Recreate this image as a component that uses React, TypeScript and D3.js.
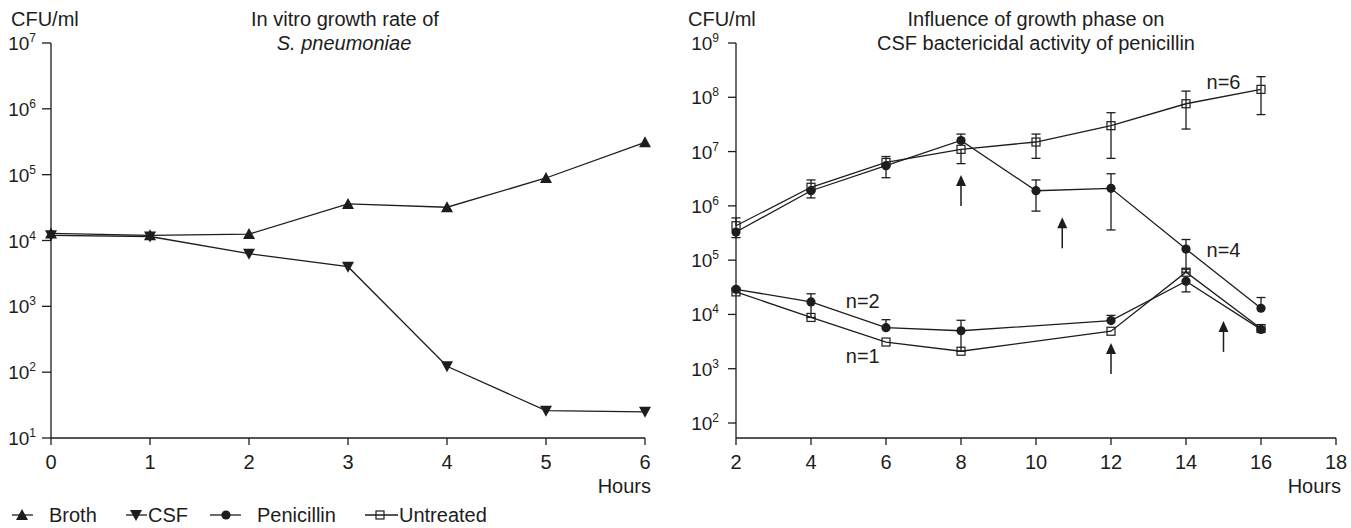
import * as d3 from 'd3'

const W = 1351
const H = 528
const FONT = "'Liberation Sans', Arial, sans-serif"
const INK = '#1d1d1b'

// ---- left panel: in vitro growth ----
const GROWTH_HOURS = [0, 1, 2, 3, 4, 5, 6]
const BROTH = [1.28e4, 1.2e4, 1.25e4, 3.6e4, 3.2e4, 8.9e4, 3.1e5]
const CSF = [1.2e4, 1.15e4, 6.3e3, 4.0e3, 123, 26, 25]
const LEFT_DECADES = [1, 2, 3, 4, 5, 6, 7]

// ---- right panel: growth phase vs penicillin ----
const PHASE_HOURS = [2, 4, 6, 8, 10, 12, 14, 16]
const RIGHT_X_TICKS = [2, 4, 6, 8, 10, 12, 14, 16, 18]
const RIGHT_DECADES = [2, 3, 4, 5, 6, 7, 8, 9]

const UNTREATED_HI = [4.3e5, 2.2e6, 6.3e6, 1.1e7, 1.5e7, 3.0e7, 7.6e7, 1.4e8]
const UNTREATED_HI_LO = [null, null, null, 6.0e6, 7.5e6, 7.5e6, 2.6e7, 4.8e7]
const UNTREATED_HI_HI = [6.0e5, 3.0e6, 8.1e6, null, 2.1e7, 5.2e7, 1.3e8, 2.4e8]

const PENICILLIN_HI = [3.3e5, 1.9e6, 5.5e6, 1.6e7, 1.9e6, 2.1e6, 1.6e5, 1.3e4]
const PENICILLIN_HI_LO = [2.6e5, 1.4e6, 3.3e6, null, 8.0e5, 3.6e5, 6.0e4, null]
const PENICILLIN_HI_HI = [null, null, null, 2.1e7, 3.0e6, 3.9e6, 2.4e5, 2.05e4]

const PENICILLIN_LO = [2.9e4, 1.7e4, 5.7e3, 5.0e3, null, 7.7e3, 4.1e4, 5.3e3]
const PENICILLIN_LO_LO = [null, 8.8e3, null, 2.1e3, null, null, 2.6e4, null]
const PENICILLIN_LO_HI = [null, 2.4e4, 8.0e3, 7.8e3, null, 9.6e3, null, null]

const UNTREATED_LO = [2.6e4, 8.8e3, 3.1e3, 2.1e3, null, 4.9e3, 6.0e4, 5.5e3]
const UNTREATED_LO_HI = [null, null, null, null, null, null, 6.8e4, null]

const ARROW_HOURS = [8, 10.7, 12, 15]
const ARROW_TIPS = [3.7e6, 6.2e5, 2.98e3, 7.6e3]

const N_LABELS = ['n=6', 'n=4', 'n=2', 'n=1']
const N_LABEL_HOURS = [15, 15, 5.38, 5.38]
const N_LABEL_CFU = [1.9e8, 1.54e5, 1.77e4, 1.72e3]

const LEGEND_NAMES = ['Broth', 'CSF', 'Penicillin', 'Untreated']
const LEGEND_KINDS = ['up', 'down', 'circle', 'square']

// legend layout (px)
const LEGEND_LINE = [[12, 33], [126, 147], [210, 241], [365, 398]]
const LEGEND_MARK = [22, 136, 226, 380]
const LEGEND_TEXT = [49, 148, 257, 399]

type Kind = 'up' | 'down' | 'circle' | 'square'

function Marker({ kind, x, y }: { kind: Kind; x: number; y: number }) {
  if (kind === 'up') return <path d={`M${x},${y - 6}L${x + 6},${y + 5}L${x - 6},${y + 5}Z`} fill={INK} />
  if (kind === 'down') return <path d={`M${x},${y + 6}L${x + 6},${y - 5}L${x - 6},${y - 5}Z`} fill={INK} />
  if (kind === 'circle') return <circle cx={x} cy={y} r={4.6} fill={INK} />
  return <rect x={x - 4} y={y - 4} width={8} height={8} fill="none" stroke={INK} strokeWidth={1.2} />
}

function YTickLabel({ x, y, exp }: { x: number; y: number; exp: number }) {
  return (
    <text x={x} y={y + 7} textAnchor="end" fontSize={19} fill={INK}>
      <tspan>10</tspan>
      <tspan dy={-8} fontSize={12}>{exp}</tspan>
    </text>
  )
}

export default function App() {
  // left scales
  const xL = d3.scaleLinear().domain([0, 6]).range([51, 645])
  const yL = d3.scaleLog().domain([10, 1e7]).range([438, 43])

  // right scales
  const xR = d3.scaleLinear().domain([2, 18]).range([736, 1336])
  const yR = d3.scaleLog().domain([1e2, 1e9]).range([423, 43])
  const axisYR = 438

  const lineL = d3.line<[number, number]>().x(d => xL(d[0])).y(d => yL(d[1]))
  const lineR = d3.line<[number, number]>().x(d => xR(d[0])).y(d => yR(d[1]))

  const pairs = (hours: number[], vals: (number | null)[]) =>
    hours.map((h, i) => [h, vals[i]] as [number, number | null]).filter(d => d[1] != null) as [number, number][]

  const rightSeries = [
    { vals: UNTREATED_HI, lo: UNTREATED_HI_LO, hi: UNTREATED_HI_HI, kind: 'square' as Kind },
    { vals: PENICILLIN_HI, lo: PENICILLIN_HI_LO, hi: PENICILLIN_HI_HI, kind: 'circle' as Kind },
    { vals: UNTREATED_LO, lo: [] as (number | null)[], hi: UNTREATED_LO_HI, kind: 'square' as Kind },
    { vals: PENICILLIN_LO, lo: PENICILLIN_LO_LO, hi: PENICILLIN_LO_HI, kind: 'circle' as Kind },
  ]

  const cap = 4.5

  return (
    <svg width={W} height={H} style={{ position: 'absolute', left: 0, top: 0 }} fontFamily={FONT}>
      <rect width={W} height={H} fill="#fff" />

      {/* ---------- left panel ---------- */}
      <text x={11} y={26} fontSize={20} fill={INK}>CFU/ml</text>
      <text x={345} y={26} fontSize={20} fill={INK} textAnchor="middle">In vitro growth rate of</text>
      <text x={344} y={50} fontSize={20} fill={INK} textAnchor="middle" fontStyle="italic">S. pneumoniae</text>

      <line x1={xL(0)} x2={xL(0)} y1={yL(1e7)} y2={yL(10)} stroke={INK} strokeWidth={1.3} />
      <line x1={xL(0)} x2={xL(6)} y1={yL(10)} y2={yL(10)} stroke={INK} strokeWidth={1.3} />
      {LEFT_DECADES.map(e => (
        <g key={e}>
          <line x1={xL(0) - 9} x2={xL(0)} y1={yL(10 ** e)} y2={yL(10 ** e)} stroke={INK} strokeWidth={1.3} />
          <YTickLabel x={xL(0) - 15} y={yL(10 ** e)} exp={e} />
        </g>
      ))}
      {GROWTH_HOURS.map(h => (
        <g key={h}>
          <line x1={xL(h)} x2={xL(h)} y1={yL(10)} y2={yL(10) + 7} stroke={INK} strokeWidth={1.3} />
          <text x={xL(h)} y={469} fontSize={20} textAnchor="middle" fill={INK}>{h}</text>
        </g>
      ))}
      <text x={651} y={493} fontSize={20} textAnchor="end" fill={INK}>Hours</text>

      <path d={lineL(pairs(GROWTH_HOURS, BROTH)) ?? ''} fill="none" stroke={INK} strokeWidth={1.3} />
      <path d={lineL(pairs(GROWTH_HOURS, CSF)) ?? ''} fill="none" stroke={INK} strokeWidth={1.3} />
      {GROWTH_HOURS.map((h, i) => (
        <g key={h}>
          <Marker kind="up" x={xL(h)} y={yL(BROTH[i])} />
          <Marker kind="down" x={xL(h)} y={yL(CSF[i])} />
        </g>
      ))}

      {/* ---------- right panel ---------- */}
      <text x={688} y={26} fontSize={20} fill={INK}>CFU/ml</text>
      <text x={1036} y={26} fontSize={20} fill={INK} textAnchor="middle">Influence of growth phase on</text>
      <text x={1036} y={50} fontSize={20} fill={INK} textAnchor="middle">CSF bactericidal activity of penicillin</text>

      <line x1={xR(2)} x2={xR(2)} y1={yR(1e9)} y2={axisYR} stroke={INK} strokeWidth={1.3} />
      <line x1={xR(2)} x2={xR(18)} y1={axisYR} y2={axisYR} stroke={INK} strokeWidth={1.3} />
      {RIGHT_DECADES.map(e => (
        <g key={e}>
          <line x1={xR(2) - 8} x2={xR(2)} y1={yR(10 ** e)} y2={yR(10 ** e)} stroke={INK} strokeWidth={1.3} />
          <YTickLabel x={xR(2) - 17} y={yR(10 ** e)} exp={e} />
        </g>
      ))}
      {RIGHT_X_TICKS.map(h => (
        <g key={h}>
          <line x1={xR(h)} x2={xR(h)} y1={axisYR} y2={axisYR + 7} stroke={INK} strokeWidth={1.3} />
          <text x={xR(h)} y={469} fontSize={20} textAnchor="middle" fill={INK}>{h}</text>
        </g>
      ))}
      <text x={1341} y={493} fontSize={20} textAnchor="end" fill={INK}>Hours</text>

      {/* error bars */}
      {rightSeries.map((s, si) =>
        PHASE_HOURS.map((h, i) => {
          if (s.vals[i] == null) return null
          const x = xR(h)
          const lo = s.lo[i]
          const hi = s.hi[i]
          return (
            <g key={`${si}-${h}`} stroke={INK} strokeWidth={1.3}>
              {hi != null && (
                <>
                  <line x1={x} x2={x} y1={yR(s.vals[i] as number)} y2={yR(hi)} />
                  <line x1={x - cap} x2={x + cap} y1={yR(hi)} y2={yR(hi)} />
                </>
              )}
              {lo != null && (
                <>
                  <line x1={x} x2={x} y1={yR(s.vals[i] as number)} y2={yR(lo)} />
                  <line x1={x - cap} x2={x + cap} y1={yR(lo)} y2={yR(lo)} />
                </>
              )}
            </g>
          )
        })
      )}

      {rightSeries.map((s, si) => (
        <path key={si} d={lineR(pairs(PHASE_HOURS, s.vals)) ?? ''} fill="none" stroke={INK} strokeWidth={1.3} />
      ))}
      {rightSeries.map((s, si) =>
        pairs(PHASE_HOURS, s.vals).map(([h, v]) => (
          <Marker key={`${si}-${h}`} kind={s.kind} x={xR(h)} y={yR(v)} />
        ))
      )}

      {/* arrows */}
      {ARROW_HOURS.map((h, i) => {
        const x = xR(h)
        const y = yR(ARROW_TIPS[i])
        return (
          <g key={i}>
            <path d={`M${x},${y}L${x + 5},${y + 11}L${x - 5},${y + 11}Z`} fill={INK} />
            <line x1={x} x2={x} y1={y + 10} y2={y + 31} stroke={INK} strokeWidth={1.5} />
          </g>
        )
      })}

      {/* n labels */}
      {N_LABELS.map((t, i) => (
        <text key={t} x={xR(N_LABEL_HOURS[i])} y={yR(N_LABEL_CFU[i]) + 7} fontSize={20} textAnchor="middle" fill={INK}>
          {t}
        </text>
      ))}

      {/* legend */}
      {LEGEND_NAMES.map((name, i) => (
        <g key={name}>
          <line x1={LEGEND_LINE[i][0]} x2={LEGEND_LINE[i][1]} y1={515} y2={515} stroke={INK} strokeWidth={1.3} />
          <Marker kind={LEGEND_KINDS[i] as Kind} x={LEGEND_MARK[i]} y={515} />
          <text x={LEGEND_TEXT[i]} y={522} fontSize={20} fill={INK}>{name}</text>
        </g>
      ))}
    </svg>
  )
}
